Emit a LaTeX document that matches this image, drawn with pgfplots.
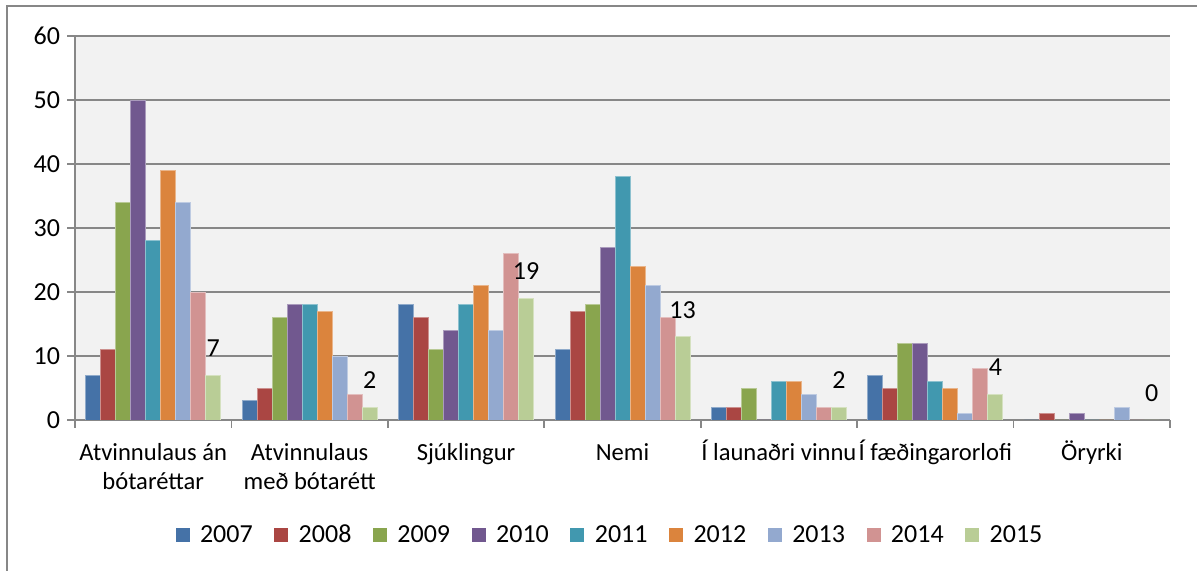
\documentclass[border=0pt]{standalone}
\usepackage{pgfplots}
\pgfplotsset{compat=1.18}
\usepackage{fontspec}
\setmainfont{Carlito}
\definecolor{c1}{HTML}{4572A7}
\definecolor{c2}{HTML}{AA4643}
\definecolor{c3}{HTML}{89A54E}
\definecolor{c4}{HTML}{71588F}
\definecolor{c5}{HTML}{4198AF}
\definecolor{c6}{HTML}{DB843D}
\definecolor{c7}{HTML}{93A9CF}
\definecolor{c8}{HTML}{D19392}
\definecolor{c9}{HTML}{B9CD96}
\definecolor{bgc}{HTML}{F2F2F2}
\definecolor{gridc}{HTML}{878787}
\newcommand{\lblfont}{\fontsize{13}{15.5}\selectfont}
\newcommand{\xfont}{\fontsize{12.3}{14.5}\selectfont}
\newcommand{\st}{\rule{0pt}{11.5pt}}
\begin{document}
\begin{tikzpicture}
\useasboundingbox (-37.5pt,-75.5pt) rectangle (561pt,210pt);
\draw[gridc, line width=0.8pt] (-34pt,-75.5pt) -- (-34pt,207pt) -- (561pt,207pt);
\begin{axis}[
  at={(0,0)}, anchor=south west,
  scale only axis, width=547.5pt, height=192pt,
  ymin=0, ymax=60, ytick={0,10,20,30,40,50,60},
  xmin=-0.5, xmax=6.5,
  xtick={-0.5,0.5,1.5,2.5,3.5,4.5,5.5,6.5},
  x tick label as interval,
  xticklabels={{\st Atvinnulaus án\\bótaréttar},{\st Atvinnulaus\\með bótarétt},{\st Sjúklingur},{\st Nemi},{\st Í launaðri vinnu},{\st Í fæðingarorlofi},{\st Öryrki}},
  xticklabel style={align=center, font=\xfont, text=black, anchor=north, yshift=-1pt},
  yticklabel style={font=\lblfont, text=black},
  /pgf/number format/assume math mode=true,
  ybar=0pt, bar width=7.5pt,
  axis background/.style={fill=bgc},
  ymajorgrids, major grid style={line width=1pt, color=gridc},
  axis lines*=left,
  axis line style={line width=0.8pt, color=gridc},
  tick align=outside, major tick length=4pt,
  tick style={line width=0.8pt, color=gridc},
  legend style={at={(0.4895,-0.30)}, anchor=center, legend columns=9, draw=none, fill=none, font=\lblfont,
    /tikz/every even column/.append style={column sep=8.8pt}},
  legend image code/.code={\path[#1, draw=none] (0pt,-3.3pt) rectangle (7pt,3.7pt); \path (10pt,0pt);},
]
\addplot[fill=c1, draw=c1!60!white] coordinates {(0,7) (1,3) (2,18) (3,11) (4,2) (5,7) (6,0)};
\addplot[fill=c2, draw=c2!60!white] coordinates {(0,11) (1,5) (2,16) (3,17) (4,2) (5,5) (6,1)};
\addplot[fill=c3, draw=c3!60!white] coordinates {(0,34) (1,16) (2,11) (3,18) (4,5) (5,12) (6,0)};
\addplot[fill=c4, draw=c4!60!white] coordinates {(0,50) (1,18) (2,14) (3,27) (4,0) (5,12) (6,1)};
\addplot[fill=c5, draw=c5!60!white] coordinates {(0,28) (1,18) (2,18) (3,38) (4,6) (5,6) (6,0)};
\addplot[fill=c6, draw=c6!60!white] coordinates {(0,39) (1,17) (2,21) (3,24) (4,6) (5,5) (6,0)};
\addplot[fill=c7, draw=c7!60!white] coordinates {(0,34) (1,10) (2,14) (3,21) (4,4) (5,1) (6,2)};
\addplot[fill=c8, draw=c8!60!white] coordinates {(0,20) (1,4) (2,26) (3,16) (4,2) (5,8) (6,0)};
\addplot[fill=c9, draw=c9!60!white, nodes near coords,
  nodes near coords style={anchor=south, inner sep=0pt, yshift=9pt, font=\lblfont, text=black}]
  coordinates {(0,7) (1,2) (2,19) (3,13) (4,2) (5,4) (6,0)};
\legend{2007,2008,2009,2010,2011,2012,2013,2014,2015}
\end{axis}
\end{tikzpicture}
\end{document}
